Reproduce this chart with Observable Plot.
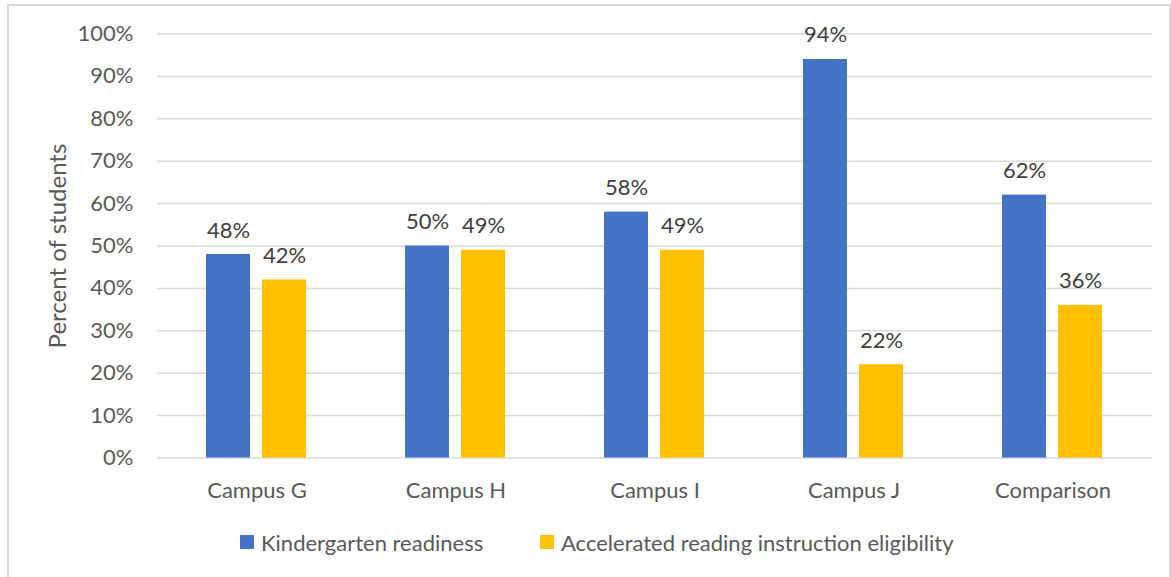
<!DOCTYPE html>
<html>
<head>
<meta charset="utf-8">
<script src="https://cdn.jsdelivr.net/npm/d3@7"></script>
<script src="https://cdn.jsdelivr.net/npm/@observablehq/plot@0.6"></script>
<style>
  html, body { margin: 0; padding: 0; background: white; }
  #frame { position: absolute; left: 7px; top: 4px; width: 1160px; border: 2px solid #d9d9d9; border-bottom: none; background: white; }
  #chart svg { display: block; }
  #legend { height: 52px; display: flex; align-items: center; padding-left: 231px; padding-bottom: 30px; font-family: Lato, sans-serif; font-size: 22px; color: #595959; }
  .item { display: flex; align-items: center; }
  .item:first-child { width: 300px; }
  .sw { width: 14px; height: 14px; margin-right: 7px; }
</style>
</head>
<body>
<div id="frame">
  <div id="chart"></div>
  <div id="legend"></div>
</div>
<script>
const categories = ["Campus G", "Campus H", "Campus I", "Campus J", "Comparison"];
const seriesNames = ["Kindergarten readiness", "Accelerated reading instruction eligibility"];
const readiness = [48, 50, 58, 94, 62];
const eligibility = [42, 49, 49, 22, 36];
const yTicks = [0, 10, 20, 30, 40, 50, 60, 70, 80, 90, 100];
const colors = ["#4472C4", "#FFC000"];
const yTitle = "Percent of students";

const data = categories.flatMap((c, i) => [
  {cat: c, series: seriesNames[0], value: readiness[i]},
  {cat: c, series: seriesNames[1], value: eligibility[i]}
]);

const chart = Plot.plot({
  width: 1160,
  height: 510,
  marginLeft: 148,
  marginRight: 17,
  marginTop: 27.5,
  marginBottom: 58.5,
  style: {fontFamily: "Lato, sans-serif", fontSize: "22px", color: "#595959", background: "white", overflow: "visible"},
  fx: {domain: categories, padding: 0, label: null},
  x: {domain: seriesNames, paddingInner: 0.2105, paddingOuter: 0.851, axis: null},
  y: {domain: [0, 100]},
  color: {domain: seriesNames, range: colors},
  marks: [
    Plot.ruleY(yTicks, {stroke: "#d9d9d9", strokeWidth: 1.5}),
    Plot.barY(data, {fx: "cat", x: "series", y: "value", fill: "series"}),
    Plot.text(data, {fx: "cat", x: "series", y: "value", text: d => d.value + "%", dy: -24, fill: "#404040", fontSize: 22}),
    Plot.axisY(yTicks, {tickSize: 0, tickPadding: 24, tickFormat: d => d + "%", fontSize: 22, label: yTitle, labelAnchor: "center", labelArrow: "none", labelOffset: 109}),
    Plot.axisFx({anchor: "bottom", tickSize: 0, tickPadding: 24, label: null, fontSize: 22})
  ]
});
document.getElementById("chart").appendChild(chart);
const lab = chart.querySelector('g[aria-label="y-axis label"]');
if (lab) lab.setAttribute("font-size", 24);

const legend = document.getElementById("legend");
seriesNames.forEach((name, i) => {
  const item = document.createElement("div");
  item.className = "item";
  const sw = document.createElement("div");
  sw.className = "sw";
  sw.style.background = colors[i];
  const t = document.createElement("span");
  t.textContent = name;
  item.appendChild(sw);
  item.appendChild(t);
  legend.appendChild(item);
});
</script>
</body>
</html>
